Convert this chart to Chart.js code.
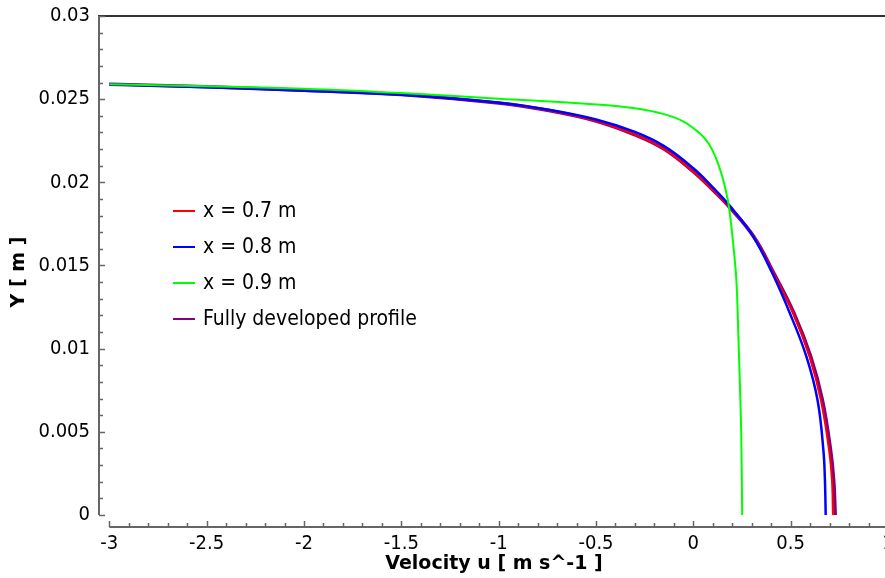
<!DOCTYPE html>
<html><head><meta charset="utf-8">
<script src="https://cdn.jsdelivr.net/npm/chart.js@4.4.1/dist/chart.umd.min.js"></script>
<style>
html,body{margin:0;padding:0;background:#fff;overflow:hidden;width:885px;height:578px}
#wrap{position:absolute;left:0;top:0;width:888px;height:578px}
canvas{display:block}
</style></head>
<body><div id="wrap"><canvas id="c" width="888" height="578"></canvas></div>
<script>
const seriesNames = ['x = 0.7 m', 'x = 0.8 m', 'x = 0.9 m', 'Fully developed profile'];
const seriesColors = ['#ff0000', '#0000ff', '#00ff00', '#800080'];

// x = 0.7 m
const u07 = [-3.00, -2.50, -2.00, -1.50, -1.00, -0.75, -0.50, -0.30, -0.15, 0.00, 0.10, 0.183, 0.311, 0.412, 0.513, 0.597, 0.655, 0.697, 0.712, 0.717];
const y07 = [0.02589, 0.02574, 0.02553, 0.02528, 0.02477, 0.02433, 0.02369, 0.02286, 0.02200, 0.02064, 0.01954, 0.01854, 0.01673, 0.01453, 0.01213, 0.00952, 0.00691, 0.00391, 0.00210, 0.0];
// x = 0.8 m
const u08 = [-3.00, -2.50, -2.00, -1.50, -1.00, -0.75, -0.50, -0.30, -0.15, 0.00, 0.10, 0.191, 0.308, 0.406, 0.496, 0.581, 0.638, 0.668, 0.676, 0.680];
const y08 = [0.02589, 0.02572, 0.02551, 0.02526, 0.02478, 0.02438, 0.02378, 0.02303, 0.02218, 0.02085, 0.01970, 0.01854, 0.01673, 0.01453, 0.01213, 0.00952, 0.00691, 0.00391, 0.00210, 0.0];
// x = 0.9 m
const u09 = [-3.00, -2.50, -2.00, -1.50, -1.00, -0.50, -0.30, -0.15, -0.05, 0.037, 0.08, 0.115, 0.145, 0.165, 0.183, 0.208, 0.222, 0.231, 0.239, 0.246, 0.251];
const y09 = [0.02589, 0.02578, 0.02563, 0.02537, 0.02503, 0.02468, 0.02445, 0.02410, 0.02365, 0.02290, 0.02230, 0.02150, 0.02050, 0.01960, 0.01854, 0.01593, 0.01393, 0.01092, 0.00792, 0.00491, 0.0];
// Fully developed profile
const uFull = [-3.00, -2.50, -2.00, -1.50, -1.00, -0.75, -0.50, -0.30, -0.15, 0.00, 0.10, 0.183, 0.311, 0.414, 0.517, 0.603, 0.663, 0.705, 0.721, 0.729];
const yFull = [0.02589, 0.02574, 0.02553, 0.02528, 0.02477, 0.02433, 0.02369, 0.02286, 0.02200, 0.02064, 0.01954, 0.01854, 0.01673, 0.01453, 0.01213, 0.00952, 0.00691, 0.00391, 0.00210, 0.0];

const xTicks = [-3, -2.5, -2, -1.5, -1, -0.5, 0, 0.5, 1];
const xTickLabels = ['-3', '-2.5', '-2', '-1.5', '-1', '-0.5', '0', '0.5', '1'];
const yTicks = [0, 0.005, 0.01, 0.015, 0.02, 0.025, 0.03];
const yTickLabels = ['0', '0.005', '0.01', '0.015', '0.02', '0.025', '0.03'];
const xTitle = 'Velocity u [ m s^-1 ]';
const yTitle = 'Y [ m ]';

const FONT = '"DejaVu Sans Condensed", "DejaVu Sans", sans-serif';
const BFONT = '"DejaVu Sans", sans-serif';

function pts(us, ys) { return us.map((u, i) => ({x: u, y: ys[i]})); }
const seriesData = [pts(u07, y07), pts(u08, y08), pts(u09, y09), pts(uFull, yFull)];
const widths = [2, 2.5, 2, 3.5];
const orders = [3, 2, 1, 4];

const deco = {
  id: 'deco',
  beforeDatasetsDraw(chart) {
    const ctx = chart.ctx, xs = chart.scales.x, ys = chart.scales.y, ca = chart.chartArea;
    const y0 = ys.getPixelForValue(yTicks[0]), yTop = ys.getPixelForValue(yTicks[yTicks.length - 1]);
    const xL = xs.getPixelForValue(xTicks[0]);
    ctx.save();
    ctx.strokeStyle = '#333'; ctx.lineWidth = 2;
    ctx.beginPath(); ctx.moveTo(ca.left - 2, yTop); ctx.lineTo(chart.width, yTop); ctx.stroke();
    ctx.strokeStyle = '#666'; ctx.lineWidth = 2;
    ctx.beginPath(); ctx.moveTo(ca.left - 1, y0); ctx.lineTo(ca.left - 1, yTop); ctx.stroke();
    ctx.lineWidth = 1.5;
    for (let i = 0; i <= 30; i++) {
      const py = Math.round(ys.getPixelForValue(i * 0.001)) + 0.5;
      const len = i % 5 === 0 ? 6 : 4;
      ctx.beginPath(); ctx.moveTo(ca.left - 1, py); ctx.lineTo(ca.left - 1 + len, py); ctx.stroke();
    }
    ctx.lineWidth = 2;
    ctx.beginPath(); ctx.moveTo(xL, ca.bottom - 1); ctx.lineTo(chart.width, ca.bottom - 1); ctx.stroke();
    ctx.lineWidth = 1.5;
    for (let i = 0; i <= 40; i++) {
      const px = Math.round(xs.getPixelForValue(-3 + i * 0.1)) + 0.5;
      const len = i % 5 === 0 ? 6 : 4;
      ctx.beginPath(); ctx.moveTo(px, ca.bottom - 1); ctx.lineTo(px, ca.bottom - 1 - len); ctx.stroke();
    }
    ctx.restore();
  },
  afterDatasetsDraw(chart) {
    const ctx = chart.ctx;
    ctx.save();
    ctx.font = '21px ' + FONT;
    ctx.textBaseline = 'middle';
    ctx.textAlign = 'left';
    seriesNames.forEach((name, i) => {
      const y = 211 + 36 * i;
      ctx.strokeStyle = seriesColors[i]; ctx.lineWidth = 2;
      ctx.beginPath(); ctx.moveTo(173, y); ctx.lineTo(195, y); ctx.stroke();
      ctx.fillStyle = '#000';
      ctx.fillText(name, 203, y + 1);
    });
    ctx.restore();
  }
};

new Chart(document.getElementById('c'), {
  type: 'scatter',
  data: {
    datasets: seriesData.map((d, i) => ({
      label: seriesNames[i],
      data: d,
      showLine: true,
      borderColor: seriesColors[i],
      backgroundColor: seriesColors[i],
      borderWidth: widths[i],
      pointRadius: 0,
      tension: 0.4,
      order: orders[i]
    }))
  },
  options: {
    responsive: false,
    animation: false,
    devicePixelRatio: 1,
    layout: {padding: {top: 16, left: 0, right: 0, bottom: 0}},
    plugins: {legend: {display: false}, tooltip: {enabled: false}},
    scales: {
      x: {
        type: 'linear',
        min: -3.0478, max: 1,
        afterBuildTicks: s => { s.ticks = xTicks.map(v => ({value: v})); },
        afterFit: s => { s.height = 50; s.paddingLeft = 0; s.paddingRight = 0; },
        ticks: {callback: (v, i) => xTickLabels[i], font: {family: FONT, size: 20}, color: '#000', padding: 4, maxRotation: 0, autoSkip: false},
        grid: {display: false, drawTicks: false},
        border: {display: false},
        title: {display: true, text: xTitle, font: {family: BFONT, size: 19, weight: 'bold'}, color: '#000', padding: {top: 0, bottom: 3}}
      },
      y: {
        type: 'linear',
        min: -0.000782, max: 0.03,
        afterBuildTicks: s => { s.ticks = yTicks.map(v => ({value: v})); },
        afterFit: s => { s.width = 100; s.paddingTop = 0; s.paddingBottom = 0; },
        ticks: {callback: (v, i) => yTickLabels[i], font: {family: FONT, size: 20}, color: '#000', padding: 10, autoSkip: false},
        grid: {display: false, drawTicks: false},
        border: {display: false},
        title: {display: true, text: yTitle, font: {family: BFONT, size: 19, weight: 'bold'}, color: '#000', padding: {top: 8, bottom: 0}}
      }
    }
  },
  plugins: [deco]
});
</script>
</body></html>
